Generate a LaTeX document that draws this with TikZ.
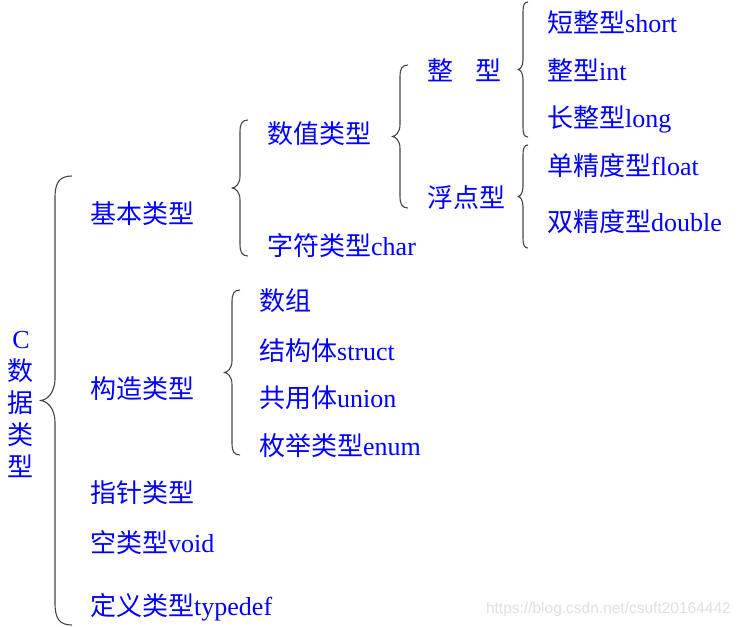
\documentclass[tikz,border=0pt]{standalone}
\usepackage{fontspec}
\setmainfont{Liberation Serif}
\newfontfamily\cjk{Noto Sans CJK SC}
\newfontfamily\wmfont{Liberation Sans}
\definecolor{txtblue}{RGB}{0,0,255}
\definecolor{bracegray}{RGB}{70,70,70}
\tikzset{
  lbl/.style={anchor=base west, inner sep=0pt, text=txtblue, font=\fontsize{26}{30}\selectfont},
  bracestyle/.style={draw=bracegray, line width=1.1pt, line join=round},
}
\newcommand\mybrace[6]{% #1 tip x, #2 arm x, #3 end x, #4 top, #5 bottom, #6 r
  \pgfmathsetmacro\bmid{(#4+#5)/2}
  \pgfmathsetmacro\bea{#2+0.25*(#3-#2)}
  \pgfmathsetmacro\bta{#1+0.4*(#2-#1)}
  \pgfmathsetmacro\bya{#4+0.3*#6}
  \pgfmathsetmacro\byb{#4+#6}
  \pgfmathsetmacro\byc{\bmid-#6}
  \pgfmathsetmacro\byd{\bmid-0.3*#6}
  \pgfmathsetmacro\bye{\bmid+0.3*#6}
  \pgfmathsetmacro\byf{\bmid+#6}
  \pgfmathsetmacro\byg{#5-#6}
  \pgfmathsetmacro\byh{#5-0.3*#6}
  \draw[bracestyle] (#3,#4) .. controls (\bea,#4) and (#2,\bya) .. (#2,\byb)
    -- (#2,\byc) .. controls (#2,\byd) and (\bta,\bmid) .. (#1,\bmid)
    .. controls (\bta,\bmid) and (#2,\bye) .. (#2,\byf)
    -- (#2,\byg) .. controls (#2,\byh) and (\bea,#5) .. (#3,#5);
}
\begin{document}
\begin{tikzpicture}[x=1pt,y=-1pt]
\useasboundingbox[fill=white] (0,0) rectangle (740,627);
% title
\node[anchor=center, inner sep=0pt, text=txtblue, align=center, font=\fontsize{26}{32}\selectfont] (title) at (21,404) {C\\{\cjk 数}\\{\cjk 据}\\{\cjk 类}\\{\cjk 型}};
% braces
\mybrace{40}{55}{72}{176}{625}{22}
\mybrace{232}{240}{248}{120}{256}{12}
\mybrace{392}{400}{408}{65}{208}{12}
\mybrace{518}{523}{528}{2}{137}{10}
\mybrace{518}{523}{528}{145}{248}{10}
\mybrace{224}{232}{240}{290}{455}{12}
% level 1
\node[lbl] (n1) at (90,223) {\cjk 基本类型};
\node[lbl] (n2) at (90,398) {\cjk 构造类型};
\node[lbl] (n3) at (90,502) {\cjk 指针类型};
\node[lbl] (n4) at (90,552) {{\cjk 空类型}void};
\node[lbl] (n5) at (90,615) {{\cjk 定义类型}typedef};
% level 2
\node[lbl] (s1) at (267,143) {\cjk 数值类型};
\node[lbl] (s2) at (267,255) {{\cjk 字符类型}char};
\node[lbl] (c1) at (259,310) {\cjk 数组};
\node[lbl] (c2) at (259,360) {{\cjk 结构体}struct};
\node[lbl] (c3) at (259,407) {{\cjk 共用体}union};
\node[lbl] (c4) at (259,455) {{\cjk 枚举类型}enum};
% level 3
\node[lbl] (t1) at (427,80) {{\cjk 整}\hspace{22pt}{\cjk 型}};
\node[lbl] (t2) at (427,207) {\cjk 浮点型};
% level 4
\node[lbl] (u1) at (547,32) {{\cjk 短整型}short};
\node[lbl] (u2) at (547,80) {{\cjk 整型}int};
\node[lbl] (u3) at (547,127) {{\cjk 长整型}long};
\node[lbl] (u4) at (547,175) {{\cjk 单精度型}float};
\node[lbl] (u5) at (547,231) {{\cjk 双精度型}double};
% watermark
\node[anchor=base east, inner sep=0pt, text=black!12, font=\wmfont\fontsize{15.5}{18}\selectfont] (wm) at (731,613) {https://blog.csdn.net/csuft20164442};
\end{tikzpicture}
\end{document}
